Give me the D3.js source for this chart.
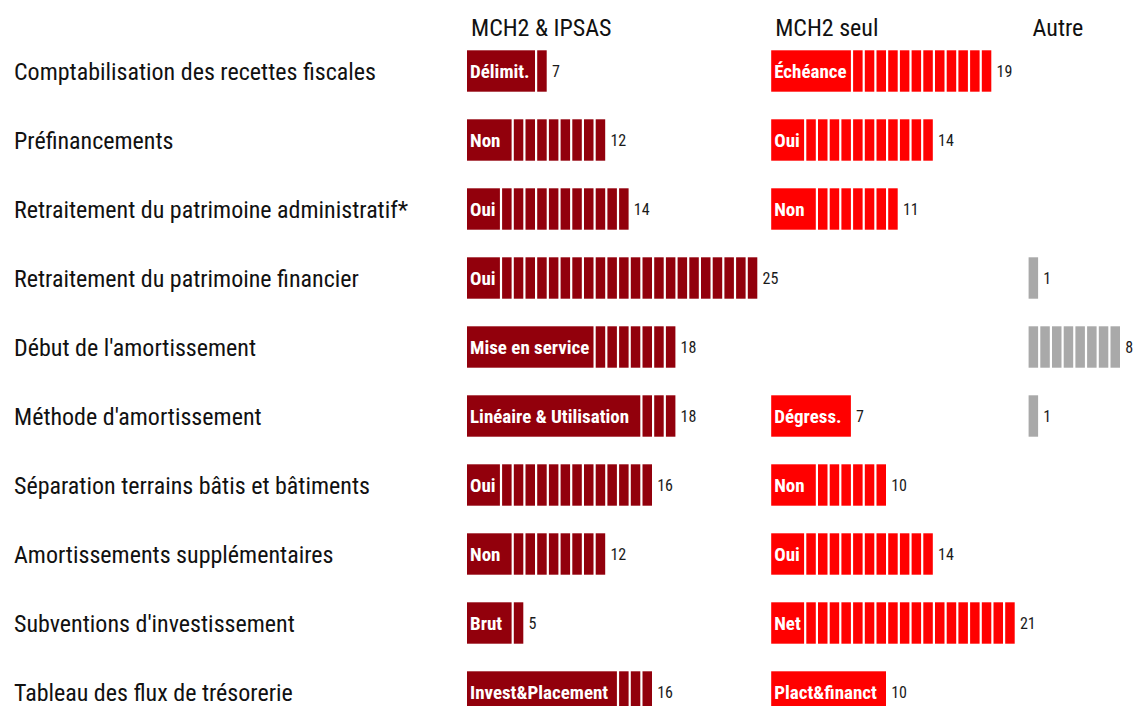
<!DOCTYPE html>
<html>
<head>
<meta charset="utf-8">
<script src="https://cdn.jsdelivr.net/npm/d3@7"></script>
<style>
  body { margin: 0; background: #fff; }
  svg text { font-family: "Roboto Condensed", Roboto, sans-serif; font-stretch: condensed; }
</style>
</head>
<body>
<div id="chart"></div>
<script>
///// Data

var categories = [
    "Comptabilisation des recettes fiscales",
    "Préfinancements",
    "Retraitement du patrimoine administratif*",
    "Retraitement du patrimoine financier",
    "Début de l'amortissement",
    "Méthode d'amortissement",
    "Séparation terrains bâtis et bâtiments",
    "Amortissements supplémentaires",
    "Subventions d'investissement",
    "Tableau des flux de trésorerie"
];

var groups = ["MCH2 & IPSAS", "MCH2 seul", "Autre"];

var mchIpsasValues = [7, 12, 14, 25, 18, 18, 16, 12, 5, 16];
var mchIpsasLabels = ["Délimit.", "Non", "Oui", "Oui", "Mise en service",
    "Linéaire & Utilisation", "Oui", "Non", "Brut", "Invest&Placement"];

var mchSeulValues = [19, 14, 11, 0, 0, 7, 10, 14, 21, 10];
var mchSeulLabels = ["Échéance", "Oui", "Non", "", "", "Dégress.", "Non", "Oui", "Net", "Plact&financt"];

var autreValues = [0, 0, 0, 1, 8, 1, 0, 0, 0, 0];
var autreLabels = ["", "", "", "", "", "", "", "", "", ""];

var colors = ["#92000c", "#ff0000", "#a9a9a9"];

///// Layout

var width = 1137, height = 706;
var unit = 11.7, gap = 2.2;

var series = [
    { values: mchIpsasValues, labels: mchIpsasLabels },
    { values: mchSeulValues, labels: mchSeulLabels },
    { values: autreValues, labels: autreLabels }
];

// each column starts one unit after the longest bar of the previous one
var offsets = [0];
series.forEach(function(s, i) {
    offsets.push(offsets[i] + d3.max(s.values) + 1);
});

var x = d3.scaleLinear()
    .domain([0, offsets[3]])
    .range([467, 467 + offsets[3] * unit]);

var y = d3.scaleBand()
    .domain(categories)
    .range([36.5, 726.5])
    .paddingInner(0.4)
    .paddingOuter(0.2);

var svg = d3.select("#chart")
    .append("svg")
        .attr("width", width)
        .attr("height", height);

// Column headers
svg.selectAll(".header")
    .data(groups)
    .enter().append("text")
        .attr("class", "header")
        .attr("x", function(d, i) { return x(offsets[i]) + 4; })
        .attr("y", 36)
        .attr("font-size", 24)
        .attr("fill", "#111")
        .text(function(d) { return d; });

// Row labels
svg.selectAll(".cat")
    .data(categories)
    .enter().append("text")
        .attr("class", "cat")
        .attr("x", 14)
        .attr("y", function(d) { return y(d) + y.bandwidth() / 2; })
        .attr("dy", "0.36em")
        .attr("font-size", 24)
        .attr("fill", "#111")
        .text(function(d) { return d; });

// Unit bars
series.forEach(function(s, si) {
    var g = svg.append("g");
    var x0 = offsets[si];

    categories.forEach(function(cat, ci) {
        var v = s.values[ci];
        if (!v) return;
        var top = y(cat), bh = y.bandwidth();
        var label = s.labels[ci];
        var span = 0;

        if (label) {
            var lbl = g.append("text")
                .attr("x", x(x0) + 3)
                .attr("y", top + bh / 2)
                .attr("dy", "0.36em")
                .attr("font-size", 19)
                .attr("font-weight", "bold")
                .attr("fill", "#fff")
                .text(label);
            var w = lbl.node().getComputedTextLength();
            span = Math.min(v, Math.ceil((w + 6) / unit));
            g.insert("rect", "text")
                .attr("x", x(x0))
                .attr("y", top)
                .attr("width", x(x0 + span) - x(x0) - gap)
                .attr("height", bh)
                .attr("fill", colors[si]);
        }

        g.selectAll(null)
            .data(d3.range(span, v))
            .enter().insert("rect", "text")
                .attr("x", function(k) { return x(x0 + k); })
                .attr("y", top)
                .attr("width", x(1) - x(0) - gap)
                .attr("height", bh)
                .attr("fill", colors[si]);

        // count
        g.append("text")
            .attr("x", x(x0 + v) + 3)
            .attr("y", top + bh / 2)
            .attr("dy", "0.36em")
            .attr("font-size", 16)
            .attr("fill", "#1a1a1a")
            .text(v);
    });
});
</script>
</body>
</html>
